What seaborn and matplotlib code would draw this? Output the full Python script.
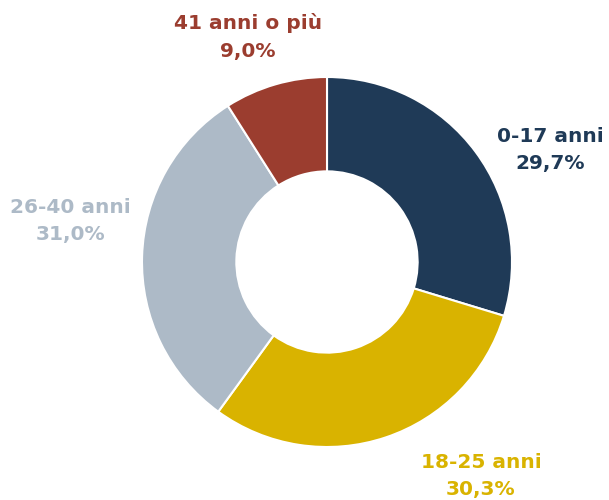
import matplotlib
matplotlib.use("Agg")

import matplotlib.pyplot as plt  # noqa: E402
import seaborn as sns            # noqa: E402

sns.set_theme(style="white")
plt.rcParams["font.family"] = ["DejaVu Sans"]

# data
CATEGORIES = ["0-17 anni", "18-25 anni", "26-40 anni", "41 anni o più"]
SHARES = [29.7, 30.3, 31.0, 9.0]
COLORS = ["#1F3A57", "#D9B300", "#ADBAC7", "#9B3D2F"]

# label anchors (layout, in units of outer radius)
LABEL_POS = [(1.205, 0.605), (0.832, -1.157), (-1.389, 0.222), (-0.427, 1.216)]

R_PX = 185.0
CX, CY = 327.0, 262.0
W, H = 609, 500

fig = plt.figure(figsize=(W / 100, H / 100), dpi=100)
ax = fig.add_axes([0, 0, 1, 1])

ax.pie(
    SHARES, colors=COLORS, startangle=90, counterclock=False,
    radius=1.0, wedgeprops=dict(width=0.51, edgecolor="white", linewidth=1.5),
)

for cat, val, col, (x, y) in zip(CATEGORIES, SHARES, COLORS, LABEL_POS):
    ax.text(
        x, y, f"{cat}\n{val:.1f}%".replace(".", ","),
        ha="center", va="center", color=col, fontsize=14.5,
        fontweight="bold", linespacing=1.55,
    )

ax.set_xlim(-CX / R_PX, (W - CX) / R_PX)
ax.set_ylim(-(H - CY) / R_PX, CY / R_PX)
ax.set_aspect("equal")
ax.axis("off")

fig.savefig("out.png", dpi=100)
plt.close(fig)
